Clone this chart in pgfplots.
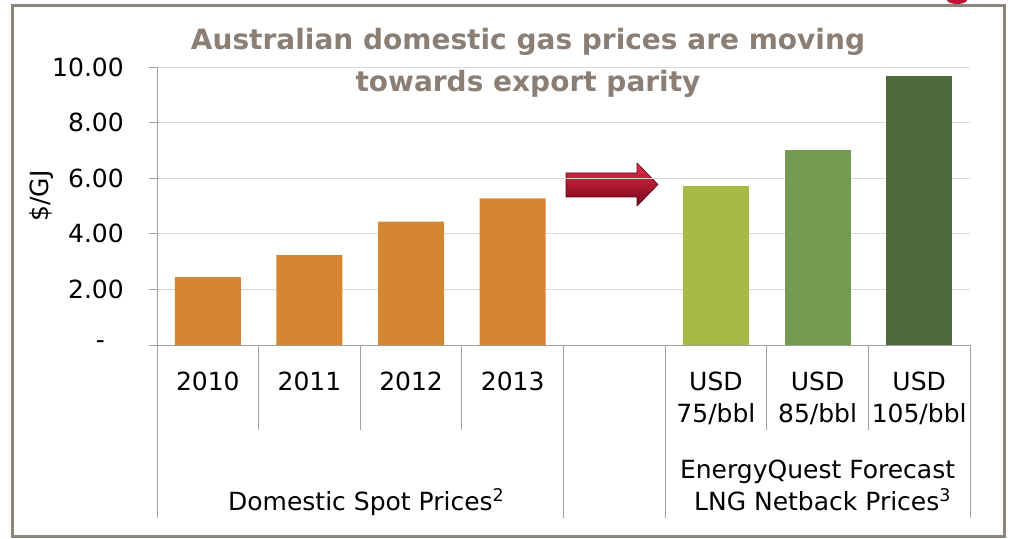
\documentclass[border=0pt]{standalone}
\usepackage{pgfplots}
\pgfplotsset{compat=1.18}
\usepackage{fontspec}
\setmainfont{DejaVu Sans}
\definecolor{framec}{RGB}{140,133,123}
\definecolor{titlec}{RGB}{139,127,117}
\definecolor{orangebar}{RGB}{212,134,51}
\definecolor{gA}{RGB}{166,186,69}
\definecolor{gB}{RGB}{117,155,81}
\definecolor{gC}{RGB}{79,106,58}
\definecolor{gridc}{RGB}{217,217,217}
\definecolor{axisc}{RGB}{160,160,160}
\definecolor{arrtop}{RGB}{230,45,75}
\definecolor{arrmid}{RGB}{200,20,50}
\definecolor{arrbot}{RGB}{120,5,25}
\definecolor{blob}{RGB}{190,20,55}
\begin{document}
\begin{tikzpicture}[x=1bp,y=1bp]
\useasboundingbox (0,0) rectangle (1011,-539);
\fill[white] (0,0) rectangle (1011,-539);
\fill[blob] (957,0) ellipse (10 and 4);
\draw[framec, line width=3bp] (12.5,-5.5) rectangle (1004.5,-536.5);
\node[anchor=base, text=titlec, font=\bfseries\fontsize{28bp}{42bp}\selectfont, inner sep=0pt] at (528,-50) {Australian domestic gas prices are moving};
\node[anchor=base, text=titlec, font=\bfseries\fontsize{28bp}{42bp}\selectfont, inner sep=0pt] at (528,-92) {towards export parity};
\shade[top color=arrtop, middle color=arrmid, bottom color=arrbot, draw=arrbot!80!black, line width=0.6bp]
  (566,-173) -- (637,-173) -- (637,-163) -- (658,-184.5) -- (637,-206) -- (637,-197) -- (566,-197) -- cycle;
\begin{axis}[
  scale only axis, width=813bp, height=278bp,
  at={(157bp,-345bp)}, anchor=south west,
  xmin=-0.5, xmax=7.5, ymin=0, ymax=10,
  axis lines*=left,
  axis line style={axisc, line width=1bp},
  clip=false,
  ytick={0,2,4,6,8,10},
  yticklabels={{-\hspace*{19bp}},2.00,4.00,6.00,8.00,10.00},
  ymajorgrids, grid style={gridc, line width=1bp},
  ytick style={axisc, line width=1bp},
  tick align=outside, major tick length=8bp,
  yticklabel style={font=\fontsize{25bp}{32bp}\selectfont, anchor=east, inner sep=0pt, xshift=-25bp},
  xtick={0,...,7},
  xticklabels={2010,2011,2012,2013,{},{USD\\75/bbl},{USD\\85/bbl},{USD\\105/bbl}},
  xtick style={draw=none},
  xticklabel style={font=\fontsize{25bp}{32bp}\selectfont, align=center, anchor=north, inner sep=0pt, yshift=-19bp},
  every axis y label/.style={at={(axis description cs:-0.1415,0.536)}, rotate=90, anchor=center, font=\fontsize{25bp}{32bp}\selectfont},
  ylabel={\$/GJ},
]
\addplot[ybar, bar width=0.65, bar shift=0pt, fill=orangebar, draw=none] coordinates {(0,2.44) (1,3.23) (2,4.44) (3,5.27)};
\addplot[ybar, bar width=0.65, bar shift=0pt, fill=gA, draw=none] coordinates {(5,5.73)};
\addplot[ybar, bar width=0.65, bar shift=0pt, fill=gB, draw=none] coordinates {(6,7.03)};
\addplot[ybar, bar width=0.65, bar shift=0pt, fill=gC, draw=none] coordinates {(7,9.68)};
% category separators
\draw[axisc, line width=1bp] (axis cs:-0.5,0) -- ++(0pt,-173bp);
\draw[axisc, line width=1bp] (axis cs:3.5,0) -- ++(0pt,-173bp);
\draw[axisc, line width=1bp] (axis cs:4.5,0) -- ++(0pt,-173bp);
\draw[axisc, line width=1bp] (axis cs:7.5,0) -- ++(0pt,-173bp);
\draw[axisc, line width=1bp] (axis cs:0.5,0) -- ++(0pt,-85bp);
\draw[axisc, line width=1bp] (axis cs:1.5,0) -- ++(0pt,-85bp);
\draw[axisc, line width=1bp] (axis cs:2.5,0) -- ++(0pt,-85bp);
\draw[axisc, line width=1bp] (axis cs:5.5,0) -- ++(0pt,-85bp);
\draw[axisc, line width=1bp] (axis cs:6.5,0) -- ++(0pt,-85bp);
\draw[axisc, line width=1bp] (axis cs:-0.5,0) -- ++(-8bp,0pt);
\node[anchor=base, inner sep=0pt, font=\fontsize{25bp}{32bp}\selectfont, xshift=6bp, yshift=-165bp] at (axis cs:1.5,0) {Domestic Spot Prices\textsuperscript{2}};
\node[anchor=base, inner sep=0pt, font=\fontsize{25bp}{32bp}\selectfont, yshift=-133bp] at (axis cs:6,0) {EnergyQuest Forecast};
\node[anchor=base, inner sep=0pt, font=\fontsize{25bp}{32bp}\selectfont, xshift=5bp, yshift=-165bp] at (axis cs:6,0) {LNG Netback Prices\textsuperscript{3}};
\end{axis}
\end{tikzpicture}
\end{document}
